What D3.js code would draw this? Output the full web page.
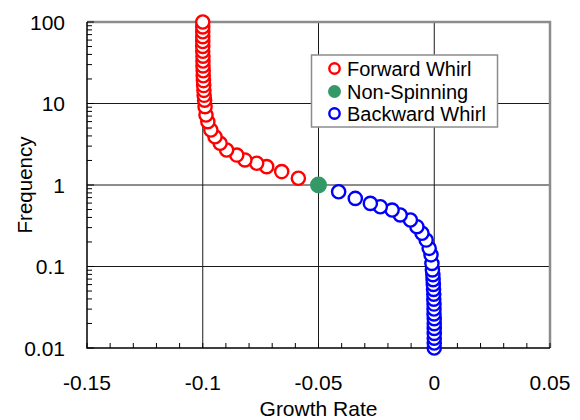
<!DOCTYPE html>
<html>
<head>
<meta charset="utf-8">
<script src="https://cdn.jsdelivr.net/npm/d3@7"></script>
<style>
  html, body { margin: 0; padding: 0; background: #fff; }
  svg { display: block; font-family: "Liberation Sans", Arial, sans-serif; }
</style>
</head>
<body>
<svg id="chart" width="580" height="420"></svg>
<script>
// Forward whirl branch: growth rate and frequency
const forwardGrowth = [-0.0587, -0.0659, -0.0724, -0.0767, -0.0818, -0.0853, -0.0897, -0.0925, -0.0947, -0.0965,
  -0.0978, -0.0986, -0.0990, -0.0992, -0.0994, -0.0995, -0.0996, -0.0997, -0.0998, -0.0998,
  -0.0999, -0.0999, -0.0999, -0.1, -0.1, -0.1, -0.1, -0.1, -0.1, -0.1];
const forwardFreq = [1.21, 1.46, 1.68, 1.85, 2.03, 2.33, 2.69, 3.25, 3.91, 4.73,
  5.98, 7.22, 9.14, 11.0, 12.6, 14.5, 16.6, 19.1, 21.9, 25.2,
  28.9, 33.2, 38.1, 43.7, 50.2, 57.6, 66.1, 75.9, 87.1, 100];

// Backward whirl branch: growth rate and frequency
const backwardGrowth = [-0.0413, -0.0341, -0.0276, -0.0233, -0.0182, -0.0147, -0.0103, -0.0075, -0.0053, -0.0035,
  -0.0022, -0.0014, -0.0010, -0.0008, -0.0006, -0.0005, -0.0004, -0.0003, -0.0002, -0.0002,
  -0.0001, -0.0001, -0.0001, 0, 0, 0, 0, 0, 0, 0];
const backwardFreq = [0.826, 0.685, 0.595, 0.541, 0.493, 0.429, 0.372, 0.308, 0.256, 0.211,
  0.167, 0.139, 0.109, 0.0909, 0.0794, 0.0690, 0.0602, 0.0524, 0.0457, 0.0397,
  0.0346, 0.0301, 0.0262, 0.0229, 0.0199, 0.0174, 0.0151, 0.0132, 0.0115, 0.01];

// Non-spinning case
const nonSpinGrowth = [-0.05];
const nonSpinFreq = [1];

// Axis ticks and labels
const xTicks = [-0.15, -0.1, -0.05, 0, 0.05];
const xTickLabels = ["-0.15", "-0.1", "-0.05", "0", "0.05"];
const yTicks = [0.01, 0.1, 1, 10, 100];
const yTickLabels = ["0.01", "0.1", "1", "10", "100"];
const legendLabels = ["Forward Whirl", "Non-Spinning", "Backward Whirl"];

const svg = d3.select("#chart");
const L = 87, R = 550, T = 22, B = 348;

const x = d3.scaleLinear().domain([-0.15, 0.05]).range([L, R]);
const y = d3.scaleLog().domain([0.01, 100]).range([B, T]);

// Gridlines
const grid = svg.append("g");
grid.selectAll("line.vx").data(xTicks.slice(1, -1)).join("line")
  .attr("x1", d => x(d)).attr("x2", d => x(d)).attr("y1", T).attr("y2", B)
  .attr("stroke", "#1a1a1a").attr("stroke-width", 1);
grid.selectAll("line.hy").data(yTicks.slice(1, -1)).join("line")
  .attr("x1", L).attr("x2", R).attr("y1", d => y(d)).attr("y2", d => y(d))
  .attr("stroke", "#1a1a1a").attr("stroke-width", 1);

// Top and right frame in grey
svg.append("path")
  .attr("d", `M${L},${T}H${R}V${B}`)
  .attr("fill", "none").attr("stroke", "#8c8c8c").attr("stroke-width", 2.5);

// Minor ticks (inward)
const xMinor = d3.range(-15, 6).map(i => i / 100);
svg.append("g").selectAll("line").data(xMinor).join("line")
  .attr("x1", d => x(d)).attr("x2", d => x(d)).attr("y1", B).attr("y2", B - 5)
  .attr("stroke", "#000").attr("stroke-width", 1);

const yMinor = [];
[0.01, 0.1, 1, 10].forEach(dec => { for (let k = 2; k <= 9; k++) yMinor.push(dec * k); });
svg.append("g").selectAll("line").data(yMinor).join("line")
  .attr("x1", L).attr("x2", L + 5).attr("y1", d => y(d)).attr("y2", d => y(d))
  .attr("stroke", "#000").attr("stroke-width", 1);
svg.append("g").selectAll("line").data(yTicks).join("line")
  .attr("x1", L).attr("x2", L + 7).attr("y1", d => y(d)).attr("y2", d => y(d))
  .attr("stroke", "#000").attr("stroke-width", 1);

// Left and bottom axis lines
svg.append("path")
  .attr("d", `M${L},${T}V${B}H${R}`)
  .attr("fill", "none").attr("stroke", "#000").attr("stroke-width", 1.5);

// Tick labels
svg.append("g").selectAll("text").data(xTicks).join("text")
  .attr("x", d => x(d)).attr("y", 390)
  .attr("text-anchor", "middle").attr("font-size", 21).attr("fill", "#000")
  .text((d, i) => xTickLabels[i]);
svg.append("g").selectAll("text").data(yTicks).join("text")
  .attr("x", 65).attr("y", d => y(d) + 7.5)
  .attr("text-anchor", "end").attr("font-size", 21).attr("fill", "#000")
  .text((d, i) => yTickLabels[i]);

// Axis titles
svg.append("text").attr("x", x(-0.05)).attr("y", 416)
  .attr("text-anchor", "middle").attr("font-size", 21).text("Growth Rate");
svg.append("text").attr("transform", `translate(32,${y(1)}) rotate(-90)`)
  .attr("text-anchor", "middle").attr("font-size", 20.5).text("Frequency");

// Data series
const fwd = forwardGrowth.map((g, i) => ({ g, f: forwardFreq[i] }));
const bwd = backwardGrowth.map((g, i) => ({ g, f: backwardFreq[i] })).reverse();
const ns = nonSpinGrowth.map((g, i) => ({ g, f: nonSpinFreq[i] }));

svg.append("g").selectAll("circle").data(fwd).join("circle")
  .attr("cx", d => x(d.g)).attr("cy", d => y(d.f)).attr("r", 6.6)
  .attr("fill", "#fff").attr("stroke", "#ff0000").attr("stroke-width", 2.4);
svg.append("g").selectAll("circle").data(bwd).join("circle")
  .attr("cx", d => x(d.g)).attr("cy", d => y(d.f)).attr("r", 6.6)
  .attr("fill", "#fff").attr("stroke", "#0000ff").attr("stroke-width", 2.4);
svg.append("g").selectAll("circle").data(ns).join("circle")
  .attr("cx", d => x(d.g)).attr("cy", d => y(d.f)).attr("r", 8.5)
  .attr("fill", "#339966");

// Legend
const lg = svg.append("g");
lg.append("rect").attr("x", 311.5).attr("y", 55).attr("width", 186).attr("height", 72)
  .attr("fill", "#fff").attr("stroke", "#8c8c8c").attr("stroke-width", 1.5);
const ly = [68.5, 91.5, 113.5];
const legendStyles = [
  { fill: "#fff", stroke: "#ff0000", r: 5.2, sw: 2.4 },
  { fill: "#339966", stroke: "none", r: 6.5, sw: 0 },
  { fill: "#fff", stroke: "#0000ff", r: 5.2, sw: 2.4 }
];
legendLabels.forEach((lab, i) => {
  const s = legendStyles[i];
  lg.append("circle").attr("cx", 334.5).attr("cy", ly[i]).attr("r", s.r)
    .attr("fill", s.fill).attr("stroke", s.stroke).attr("stroke-width", s.sw);
  lg.append("text").attr("x", 347).attr("y", ly[i] + 7)
    .attr("font-size", 20).attr("fill", "#000").text(lab);
});
</script>
</body>
</html>
